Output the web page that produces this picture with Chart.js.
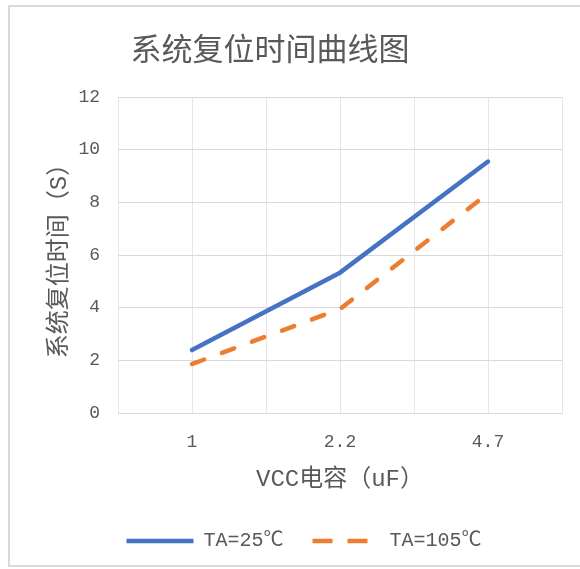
<!DOCTYPE html>
<html>
<head>
<meta charset="utf-8">
<title>系统复位时间曲线图</title>
<script src="https://cdn.jsdelivr.net/npm/chart.js@4"></script>
<style>
    html, body { margin: 0; padding: 0; background: #fff; }
    #chart { display: block; }
</style>
</head>
<body>
<canvas id="chart" width="580" height="569"></canvas>
<script>
// values
const categories = ['1', '2.2', '4.7'];
const ta25 = [2.39, 5.33, 9.55];
const ta105 = [1.86, 3.95, 8.34];
const seriesNames = ['TA=25℃', 'TA=105℃'];
const yMin = 0;
const yMax = 12;
const yStep = 2;

const textColor = '#595959';
const monoFont = '"Liberation Mono", "Noto Sans CJK SC", monospace';

// Excel-style frame (top, left, bottom) behind the chart
const framePlugin = {
    id: 'frame',
    beforeDraw(chart) {
        const ctx = chart.ctx;
        ctx.save();
        ctx.fillStyle = '#fff';
        ctx.fillRect(0, 0, chart.width, chart.height);
        ctx.strokeStyle = '#d9d9d9';
        ctx.lineWidth = 2;
        ctx.beginPath();
        ctx.moveTo(chart.width, 6);
        ctx.lineTo(9, 6);
        ctx.lineTo(9, 566);
        ctx.lineTo(chart.width, 566);
        ctx.stroke();
        ctx.restore();
    }
};

// chart title, placed where the reference has it
const titlePlugin = {
    id: 'chartTitle',
    afterDraw(chart, args, opts) {
        const ctx = chart.ctx;
        ctx.save();
        ctx.fillStyle = textColor;
        ctx.font = '31px "Noto Sans CJK SC", sans-serif';
        ctx.textAlign = 'center';
        ctx.textBaseline = 'middle';
        ctx.fillText(opts.text, opts.x, opts.y);
        ctx.restore();
    }
};

function toPoints(values) {
    return values.map((y, i) => ({ x: i + 1, y: y }));
}

new Chart(document.getElementById('chart'), {
    type: 'line',
    data: {
        datasets: [{
            label: seriesNames[0],
            data: toPoints(ta25),
            borderColor: '#4472C4',
            backgroundColor: '#4472C4',
            borderWidth: 4.5,
            borderCapStyle: 'round',
            borderJoinStyle: 'round',
            pointRadius: 0,
            tension: 0
        }, {
            label: seriesNames[1],
            data: toPoints(ta105),
            borderColor: '#ED7D31',
            backgroundColor: '#ED7D31',
            borderWidth: 4.5,
            borderDash: [13, 19],
            borderCapStyle: 'round',
            borderJoinStyle: 'round',
            pointRadius: 0,
            tension: 0
        }]
    },
    options: {
        responsive: false,
        animation: false,
        layout: {
            padding: { top: 97, right: 17, bottom: 8, left: 45 }
        },
        plugins: {
            chartTitle: { text: '系统复位时间曲线图', x: 270, y: 48 },
            title: { display: false },
            tooltip: { enabled: false },
            legend: {
                display: true,
                position: 'bottom',
                labels: {
                    color: textColor,
                    font: { family: monoFont, size: 20 },
                    usePointStyle: true,
                    pointStyle: 'line',
                    pointStyleWidth: 67,
                    padding: 29,
                    generateLabels(chart) {
                        const items = Chart.defaults.plugins.legend.labels.generateLabels(chart);
                        items.forEach(item => {
                            // point style items carry no dash, take it from the dataset
                            const ds = chart.data.datasets[item.datasetIndex];
                            if (ds.borderDash && ds.borderDash.length) {
                                item.lineDash = [20, 15];
                            }
                            item.lineCap = 'butt';
                        });
                        return items;
                    }
                }
            }
        },
        scales: {
            x: {
                type: 'linear',
                min: 0.5,
                max: categories.length + 0.5,
                afterFit(scale) { scale.height = 89; },
                grid: { color: '#e6e6e6', drawTicks: false },
                border: { display: true, color: '#d9d9d9' },
                ticks: {
                    stepSize: 0.5,
                    autoSkip: false,
                    maxRotation: 0,
                    padding: 18,
                    color: textColor,
                    font: { family: monoFont, size: 18 },
                    callback: (v) => Number.isInteger(v) ? categories[v - 1] : ''
                },
                title: {
                    display: true,
                    text: 'VCC电容（uF）',
                    color: textColor,
                    font: { family: monoFont, size: 24 },
                    padding: { top: 0, bottom: 8 }
                }
            },
            y: {
                min: yMin,
                max: yMax,
                afterFit(scale) { scale.width = 73; },
                grid: { color: '#d9d9d9', drawTicks: false },
                border: { display: false },
                ticks: {
                    stepSize: yStep,
                    padding: 18,
                    color: textColor,
                    font: { family: monoFont, size: 18 }
                },
                title: {
                    display: true,
                    text: '系统复位时间（S）',
                    color: textColor,
                    font: { family: monoFont, size: 24 },
                    padding: { top: 0, bottom: 0 }
                }
            }
        }
    },
    plugins: [framePlugin, titlePlugin]
});
</script>
</body>
</html>
